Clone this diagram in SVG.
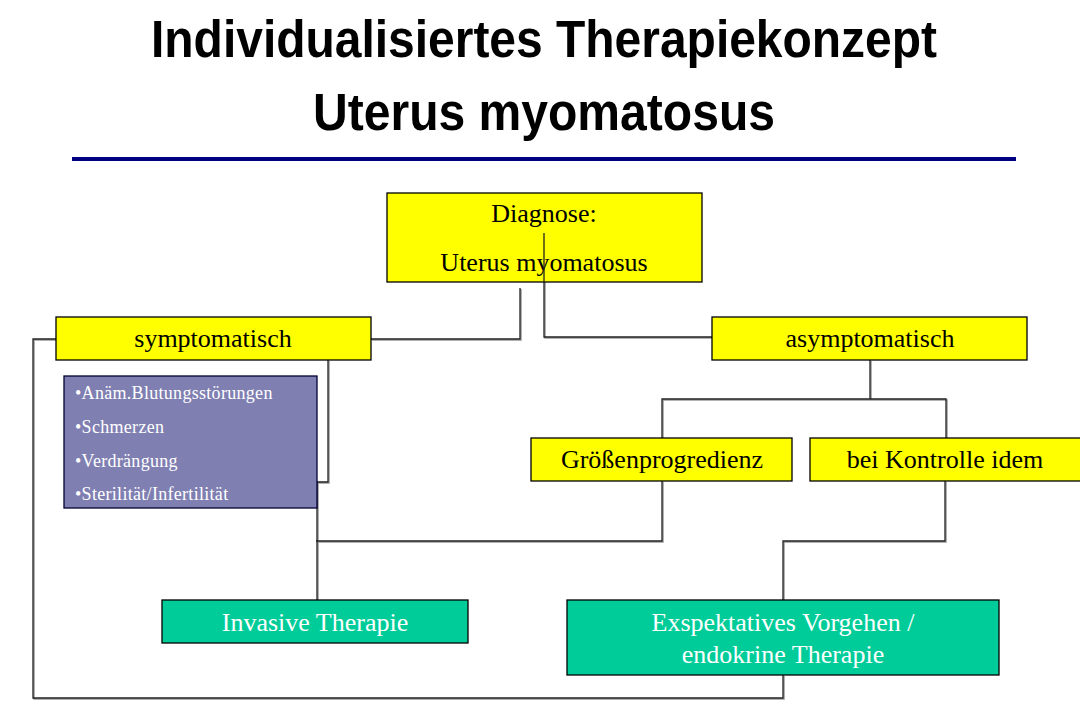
<svg xmlns="http://www.w3.org/2000/svg" width="1080" height="720" viewBox="0 0 1080 720">
<style>
.title{font-family:"Liberation Sans",Arial,sans-serif;font-weight:bold;font-size:51px;fill:#000}
.lbl{font-family:"Liberation Serif","Times New Roman",serif;font-size:26px;fill:#000;text-anchor:middle}
.wlbl{font-family:"Liberation Serif","Times New Roman",serif;font-size:26px;fill:#fff;text-anchor:middle}
.bul{font-family:"Liberation Serif","Times New Roman",serif;font-size:18px;letter-spacing:0.3px;fill:#fff}
.yel{fill:#ffff00;stroke:#000;stroke-width:1.3}
.grn{fill:#00cc99;stroke:#000;stroke-width:1.3}
.pur{fill:#7f7fb2;stroke:#000033;stroke-width:1.3}
.sh{fill:none;stroke:#999;stroke-width:1.5}
.ln{fill:none;stroke:#222;stroke-width:1.3}
</style>
<rect width="1080" height="720" fill="#fff"/>
<g id="title">
<text class="title" x="151" y="57" textLength="786" lengthAdjust="spacingAndGlyphs">Individualisiertes Therapiekonzept</text>
<text class="title" x="313" y="130" textLength="462" lengthAdjust="spacingAndGlyphs">Uterus myomatosus</text>
<line x1="72" y1="159" x2="1016" y2="159" stroke="#000080" stroke-width="4"/>
</g>
<g id="connectors">
<g transform="translate(1,1)">
<path class="sh" d="M520,288 V339 H371"/>
<path class="sh" d="M544,233 V337 H712"/>
<path class="sh" d="M56,339 H33 V698 H783 V675"/>
<path class="sh" d="M870,360 V399 M662,438 V399 H946 V438"/>
<path class="sh" d="M328,360 V482 H317 V600"/>
<path class="sh" d="M662,481 V541 H316"/>
<path class="sh" d="M945,481 V541 H783 V600"/>
</g>
<path class="ln" d="M520,288 V339 H371"/>
<path class="ln" d="M544,233 V337 H712"/>
<path class="ln" d="M56,339 H33 V698 H783 V675"/>
<path class="ln" d="M870,360 V399 M662,438 V399 H946 V438"/>
<path class="ln" d="M328,360 V482 H317 V600"/>
<path class="ln" d="M662,481 V541 H316"/>
<path class="ln" d="M945,481 V541 H783 V600"/>
</g>
<g id="diagnose">
<rect class="yel" x="387" y="193" width="315" height="89"/>
<text class="lbl" x="544" y="222">Diagnose:</text>
<text class="lbl" x="544" y="271">Uterus myomatosus</text>
</g>
<path class="ln" d="M544,233 V282"/>
<g id="symptomatisch">
<rect class="yel" x="56" y="317" width="315" height="43"/>
<text class="lbl" x="213" y="347">symptomatisch</text>
</g>
<g id="asymptomatisch">
<rect class="yel" x="712" y="317" width="315" height="43"/>
<text class="lbl" x="870" y="347">asymptomatisch</text>
</g>
<g id="symptome">
<rect class="pur" x="64" y="376" width="253" height="132"/>
<text class="bul" x="75" y="399">•Anäm.Blutungsstörungen</text>
<text class="bul" x="75" y="433">•Schmerzen</text>
<text class="bul" x="75" y="467">•Verdrängung</text>
<text class="bul" x="75" y="500">•Sterilität/Infertilität</text>
</g>
<g id="groessenprogredienz">
<rect class="yel" x="531" y="438" width="261" height="43"/>
<text class="lbl" x="662" y="468">Größenprogredienz</text>
</g>
<g id="kontrolle">
<rect class="yel" x="810" y="438" width="280" height="43"/>
<text class="lbl" x="945" y="468">bei Kontrolle idem</text>
</g>
<g id="invasiv">
<rect class="grn" x="162" y="600" width="306" height="43"/>
<text class="wlbl" x="315" y="631">Invasive Therapie</text>
</g>
<g id="exspektativ">
<rect class="grn" x="567" y="600" width="432" height="75"/>
<text class="wlbl" x="783" y="631">Exspektatives Vorgehen /</text>
<text class="wlbl" x="783" y="663">endokrine Therapie</text>
</g>
</svg>
